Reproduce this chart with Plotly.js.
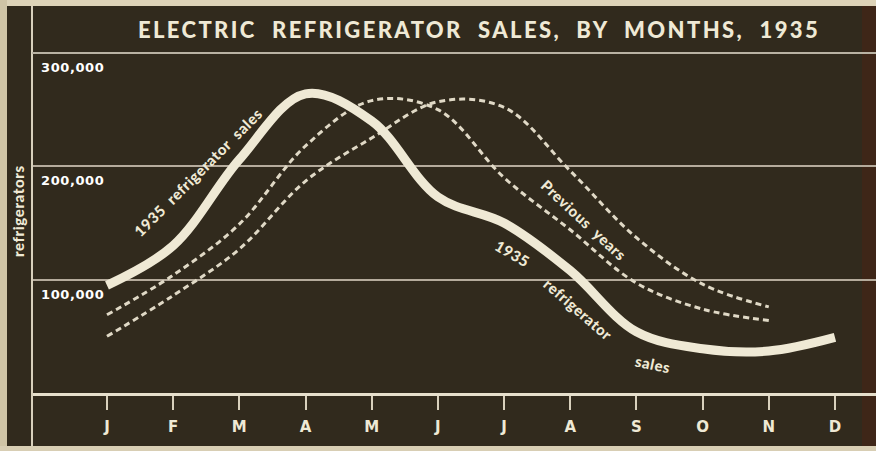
<!DOCTYPE html>
<html>
<head>
<meta charset="utf-8">
<script src="https://cdn.plot.ly/plotly-3.0.1.min.js"></script>
<style>
html,body{margin:0;padding:0;background:#d8ceb4;}
#chart{width:876px;height:451px;}
.gtitle{letter-spacing:2.4px;}
.annotation-text{letter-spacing:0.6px;}
</style>
</head>
<body>
<div id="chart"></div>
<script>
// ---- data ----
const months = ['J','F','M','A','M','J','J','A','S','O','N','D'];
const sales1935 = [95000,130000,206000,264000,240000,173000,150000,108000,54000,39000,37000,49000];
const previousEarly = [69000,104000,149000,218000,258000,250000,190000,144000,97000,74000,64000];
const previousLate = [50000,86000,127000,187000,225000,257000,252000,196000,137000,96000,76000];
const yTickValues = [100000,200000,300000];
const yTickLabels = ['100,000','200,000','300,000'];
const titleText = 'ELECTRIC  REFRIGERATOR  SALES,  BY  MONTHS,  1935';
const yTitle = 'refrigerators';

const monthIdx = months.map((m,i)=>i);
const cream = '#efe9d5';
const dashCol = '#e0d9c6';
const bg = '#312a1d';
const W = 876, H = 451, L = 32, R = 0, T = 53, B = 58;
const px = x => (x - L) / (W - L - R);
const py = y => (H - B - y) / (H - T - B);

const traces = [
  {x: monthIdx.slice(0, previousEarly.length), y: previousEarly, mode:'lines',
   line:{color:dashCol, width:3, dash:'6px,4px', shape:'spline', smoothing:1}, hoverinfo:'skip'},
  {x: monthIdx.slice(0, previousLate.length), y: previousLate, mode:'lines',
   line:{color:dashCol, width:3, dash:'6px,4px', shape:'spline', smoothing:1}, hoverinfo:'skip'},
  {x: monthIdx, y: sales1935, mode:'lines',
   line:{color:cream, width:9, shape:'spline', smoothing:1}, hoverinfo:'skip'}
];

const font = 'Lato, "DejaVu Sans", sans-serif';
const numFont = '"DejaVu Sans", sans-serif';
const annotations = yTickValues.map((v,i)=>({
  xref:'paper', yref:'y', x:0, y:v, xanchor:'left', yanchor:'top',
  xshift:7, yshift:-5, text:yTickLabels[i], showarrow:false,
  font:{family:numFont, size:13, color:'#ffffff', weight:700}
}));
const lab = (text, x, y, ang, size) => ({xref:'paper', yref:'paper', x:px(x), y:py(y),
  xanchor:'center', yanchor:'middle', text:text, textangle:ang, showarrow:false,
  font:{family:font, size:size, color:cream, weight:900}});
annotations.push(
  lab(yTitle, 18, 211, -90, 15),
  lab('1935  refrigerator  sales', 198, 172, -45, 15),
  lab('Previous  years', 584, 220, 43, 15),
  lab('1935', 512, 253, 30, 15),
  lab('refrigerator', 578, 309, 41, 15),
  lab('sales', 653, 364, 12, 15)
);

const shapes = [
  {type:'rect', xref:'paper', yref:'paper', x0:px(0), x1:px(876), y0:py(0), y1:py(6), fillcolor:'#ddd3b8', line:{width:0}, layer:'below'},
  {type:'rect', xref:'paper', yref:'paper', x0:px(0), x1:px(7), y0:py(0), y1:py(451), fillcolor:'#cfc4a6', line:{width:0}, layer:'below'},
  {type:'rect', xref:'paper', yref:'paper', x0:px(0), x1:px(876), y0:py(446), y1:py(451), fillcolor:'#d8ceb4', line:{width:0}, layer:'below'},
  {type:'rect', xref:'paper', yref:'paper', x0:px(862), x1:px(876), y0:py(6), y1:py(446), fillcolor:'#3e2618', line:{width:0}, layer:'below'},
  {type:'line', xref:'paper', yref:'paper', x0:px(32), x1:px(32), y0:py(6), y1:py(446), line:{color:'#d8d0bc', width:2}},
  {type:'line', xref:'paper', yref:'paper', x0:0, x1:1, y0:1, y1:1, line:{color:'#b9b2a3', width:2}}
];

const layout = {
  width:W, height:H,
  margin:{l:L, r:R, t:T, b:B},
  paper_bgcolor:bg, plot_bgcolor:bg,
  showlegend:false,
  title:{text:titleText, xref:'paper', x:px(479), xanchor:'center', yref:'container', y:1-30/H, yanchor:'middle',
         font:{family:font, size:22, color:cream, weight:900}},
  xaxis:{range:[-1.133, 11.62], tickmode:'array', tickvals:monthIdx, ticktext:months,
         showgrid:false, zeroline:false, showline:true, linecolor:'#e6dfcc', linewidth:3,
         ticks:'outside', ticklen:14, tickwidth:2, tickcolor:'#d8d0bc', ticklabelstandoff:4,
         tickfont:{family:numFont, size:15, color:cream, weight:700}, fixedrange:true},
  yaxis:{range:[0,300000], tickmode:'array', tickvals:yTickValues, showticklabels:false,
         showgrid:true, gridcolor:'#b5ab9c', gridwidth:2, zeroline:false, showline:false, fixedrange:true},
  annotations:annotations,
  shapes:shapes
};

Plotly.newPlot('chart', traces, layout, {displayModeBar:false, staticPlot:true});
</script>
</body>
</html>
